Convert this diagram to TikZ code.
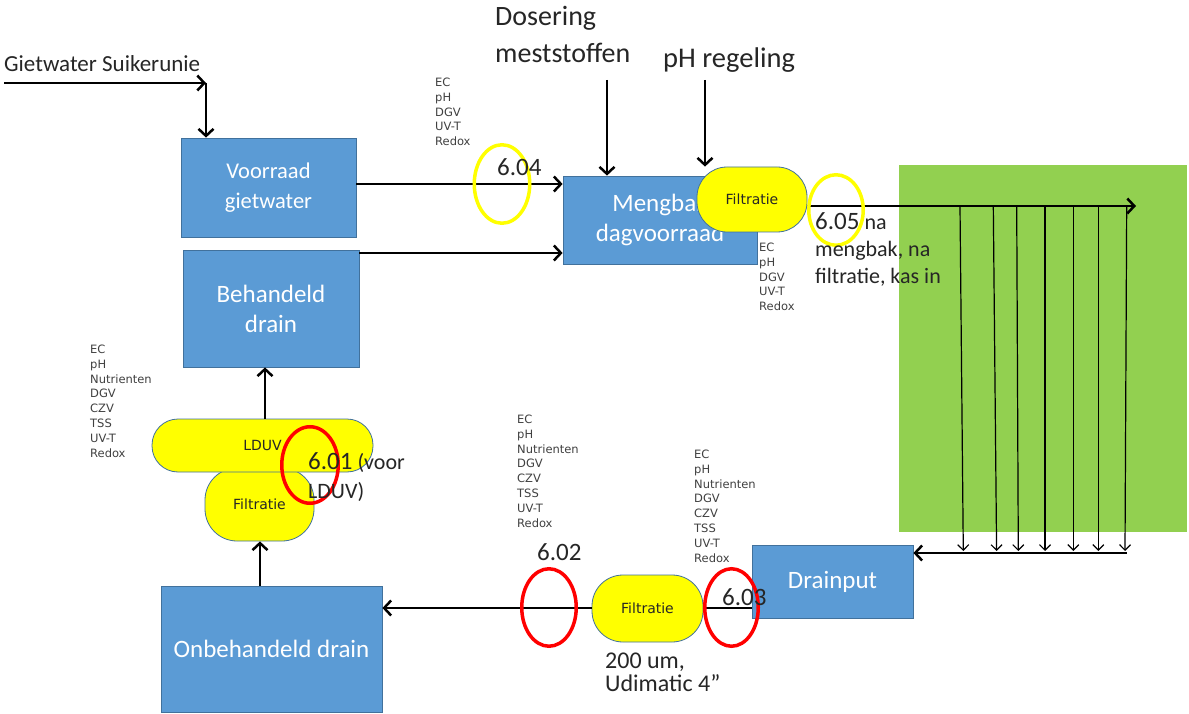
\documentclass[tikz,border=0pt]{standalone}
\usepackage{fontspec}
\setmainfont{Carlito}
\newfontfamily\dejavu{DejaVu Sans}
\usetikzlibrary{arrows.meta,shapes.geometric}
\definecolor{boxblue}{HTML}{5B9BD5}
\definecolor{boxedge}{HTML}{41719C}
\definecolor{kasgreen}{HTML}{92D050}
\definecolor{pillyellow}{HTML}{FFFF00}
\definecolor{labelgray}{HTML}{404040}
\definecolor{ringred}{HTML}{FF0000}
\definecolor{ringyellow}{HTML}{FFFF00}
\definecolor{txt}{HTML}{262626}
\tikzset{
  proc/.style={draw=boxedge, line width=0.8pt, fill=boxblue, text=white, align=center,
    inner sep=0pt, font=\fontsize{25}{30}\selectfont},
  pill/.style={draw=boxedge, line width=0.8pt, fill=pillyellow, rounded corners=#1,
    inner sep=0pt, font=\dejavu\fontsize{14}{16}\selectfont, text=txt},
  pill/.default=28pt,
  arr/.style={line width=2.5pt, -{Straight Barb[length=7pt,width=15pt]}},
  plain/.style={line width=2.5pt},
  thinarr/.style={line width=1.2pt, -{Straight Barb[length=5.5pt,width=11pt]}},
  ring/.style={ellipse, draw=#1, line width=3.5pt, inner sep=0pt},
  meas/.style={font=\dejavu\fontsize{11.5}{14.9}\selectfont, text=labelgray, align=left,
    inner sep=0pt, anchor=north west},
  bigtxt/.style={inner sep=0pt, text=txt, align=left},
}
\begin{document}
\begin{tikzpicture}[x=1pt,y=-1pt]
\useasboundingbox (0,0) rectangle (1189,714);
\fill[white] (0,0) rectangle (1189,714);

% greenhouse
\fill[kasgreen] (899,165) rectangle (1187,532);

% process boxes
\node[proc, minimum width=175pt, minimum height=99pt, font=\fontsize{22.5}{30}\selectfont] (voorraad) at (268.5,187.5) {Voorraad\\gietwater};
\node[proc, minimum width=176pt, minimum height=117pt] (behandeld) at (271,308.5) {Behandeld\\drain};
\node[proc, minimum width=194pt, minimum height=88pt] (mengbak) at (660,220) {Mengbak\\dagvoorraad};
\node[proc, minimum width=161pt, minimum height=73pt] (drainput) at (832.5,581.5) {Drainput};
\node[proc, minimum width=221pt, minimum height=126pt] (onbeh) at (271.5,649) {Onbehandeld drain};

% input arrows
\coordinate (gin) at (4,83);
\coordinate (gcorner) at (206,83);
\draw[arr] (gin) -- (gcorner);
\draw[arr] (gcorner) -- (gcorner |- voorraad.north);
\node[bigtxt, anchor=base west, font=\fontsize{23}{26}\selectfont] (gietlbl) at (4,72) {Gietwater Suikerunie};

\draw[arr] (voorraad.east |- 0,184) -- (mengbak.west |- 0,184);
\draw[arr] (behandeld.east |- 0,253) -- (mengbak.west |- 0,253);

\node[bigtxt, anchor=north west, font=\fontsize{28}{36.5}\selectfont] (dosering) at (495,6.5) {Dosering\\meststoffen};
\node[bigtxt, anchor=base west, font=\fontsize{28.5}{34}\selectfont] (phlbl) at (663,68) {pH regeling};
\coordinate (dosin) at (607,80);
\coordinate (phin) at (705,80);
\draw[arr] (dosin) -- (dosin |- mengbak.north);

% top filter
\node[pill=30pt, minimum width=110pt, minimum height=65pt] (filttop) at (752,199.5) {Filtratie};
\draw[arr] (phin) -- (phin |- filttop.north);

% main feed line into greenhouse
\coordinate (kasend) at (1136,206);
\draw[arr] (filttop.east |- 0,206) -- (kasend);

% drip lines
\foreach \xt/\xb [count=\i] in {960/963.3, 993.3/996.6, 1016.7/1018.3, 1045/1045, 1073.3/1073.3, 1098.3/1098.3, 1126.7/1125}{
  \coordinate (dt\i) at (\xt,206);
  \coordinate (db\i) at (\xb,551);
  \draw[thinarr] (dt\i) -- (db\i);
}
\coordinate (drainstart) at (1126.7,553);
\draw[arr] (drainstart) -- (drainput.east |- 0,553);

% bottom filter line
\node[pill=31pt, minimum width=111pt, minimum height=67pt] (filtbot) at (647.5,608.5) {Filtratie};
\draw[plain] (drainput.west |- 0,608) -- (filtbot.east |- 0,608);
\draw[arr] (filtbot.west |- 0,608) -- (onbeh.east |- 0,608);

% left treatment chain
\node[pill=32pt, minimum width=109pt, minimum height=73pt] (filtleft) at (259.5,504.5) {Filtratie};
\node[pill=26pt, minimum width=221pt, minimum height=53pt] (lduv) at (262.5,445.5) {LDUV};
\draw[arr] (onbeh.north -| 260,0) -- (filtleft.south -| 260,0);
\draw[arr] (lduv.north -| 265,0) -- (behandeld.south -| 265,0);

% sample point rings
\node[ring=ringyellow, minimum width=55.5pt, minimum height=78.5pt] (r604) at (502,184) {};
\node[ring=ringyellow, minimum width=54.5pt, minimum height=70.5pt] (r605) at (836,210) {};
\node[ring=ringred, minimum width=56.5pt, minimum height=76.5pt] (r601) at (310,465) {};
\node[ring=ringred, minimum width=54.5pt, minimum height=77.5pt] (r602) at (549,607.5) {};
\node[ring=ringred, minimum width=53.5pt, minimum height=77.5pt] (r603) at (731.5,607.5) {};

% sample point labels
\node[bigtxt, anchor=base west, font=\fontsize{25}{27}\selectfont] (l604) at (497,176) {6.04};
\node[bigtxt, anchor=base west, font=\fontsize{25}{27}\selectfont] (l602) at (537,560) {6.02};
\node[bigtxt, anchor=base west, font=\fontsize{25}{27}\selectfont] (l603) at (722,605) {6.03};
\node[bigtxt, anchor=north west, font=\fontsize{22}{27}\selectfont] (l605) at (815,212.2) {{\fontsize{25}{27}\selectfont 6.05} na\\mengbak, na\\filtratie, kas in};
\node[bigtxt, anchor=north west, font=\fontsize{22}{29}\selectfont] (l601) at (308,452.2) {{\fontsize{25}{27}\selectfont 6.01} (voor\\LDUV)};
\node[bigtxt, anchor=north west, font=\fontsize{24}{22.5}\selectfont] (filtnote) at (605,652.8) {200 um,\\Udimatic 4”};

% measured parameters
\node[meas] (m1) at (90,344.5) {EC\\pH\\Nutrienten\\DGV\\CZV\\TSS\\UV-T\\Redox};
\node[meas] (m2) at (435,77.5) {EC\\pH\\DGV\\UV-T\\Redox};
\node[meas] (m3) at (759,242.5) {EC\\pH\\DGV\\UV-T\\Redox};
\node[meas] (m4) at (517,414.5) {EC\\pH\\Nutrienten\\DGV\\CZV\\TSS\\UV-T\\Redox};
\node[meas] (m5) at (694,449.5) {EC\\pH\\Nutrienten\\DGV\\CZV\\TSS\\UV-T\\Redox};
\end{tikzpicture}
\end{document}
